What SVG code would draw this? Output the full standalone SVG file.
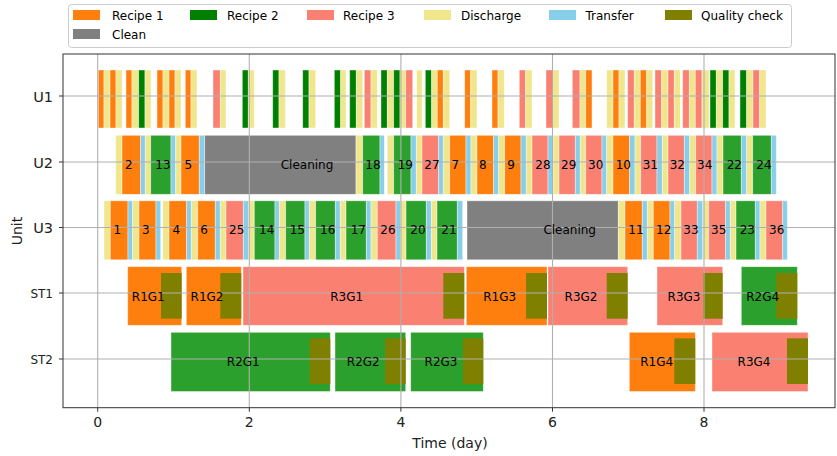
<svg xmlns="http://www.w3.org/2000/svg" width="837" height="456" viewBox="0 0 837 456">
<style>
rect.b0{stroke:#fff;stroke-opacity:.5;stroke-width:.8}
.o{fill:#ff7f0e}.g{fill:#008000}.t{fill:#2ca02c}.s{fill:#fa8072}.k{fill:#f0e68c}.b{fill:#87ceeb}.q{fill:#808000}.c{fill:#808080}
text{font-family:"DejaVu Sans","Liberation Sans",sans-serif;fill:#000}
.lbl{font-size:12px;text-anchor:middle}
.tk{font-size:14px;text-anchor:middle;fill:#222}
.yt{font-size:12px;text-anchor:end;fill:#222}
.grid line{stroke:#b0b0b0;stroke-width:1.1}
</style>
<rect width="837" height="456" fill="#fff"/>

<g id="U1-row">
<g class="b0">
<rect class="b0 o" x="98.3" y="70" width="5.7" height="58"/><rect class="b0 k" x="104" y="70" width="6" height="58"/>
<rect class="b0 o" x="110" y="70" width="6" height="58"/><rect class="b0 k" x="116" y="70" width="6" height="58"/>
<rect class="b0 o" x="126" y="70" width="6" height="58"/><rect class="b0 k" x="132" y="70" width="6.7" height="58"/><rect class="b0 g" x="138.7" y="70" width="6.3" height="58"/><rect class="b0 k" x="145" y="70" width="6" height="58"/>
<rect class="b0 o" x="157" y="70" width="6" height="58"/><rect class="b0 k" x="163" y="70" width="6" height="58"/><rect class="b0 o" x="169" y="70" width="6" height="58"/><rect class="b0 k" x="175" y="70" width="6" height="58"/>
<rect class="b0 o" x="185.3" y="70" width="5.7" height="58"/><rect class="b0 k" x="191" y="70" width="6" height="58"/>
<rect class="b0 s" x="213" y="70" width="7.3" height="58"/><rect class="b0 k" x="220.3" y="70" width="5.7" height="58"/>
<rect class="b0 g" x="242.3" y="70" width="6" height="58"/><rect class="b0 k" x="248.3" y="70" width="6" height="58"/>
<rect class="b0 g" x="272.7" y="70" width="6.3" height="58"/><rect class="b0 k" x="279" y="70" width="6.3" height="58"/>
<rect class="b0 g" x="302.7" y="70" width="6.3" height="58"/><rect class="b0 k" x="309" y="70" width="6.7" height="58"/>
<rect class="b0 g" x="334.3" y="70" width="6.4" height="58"/><rect class="b0 k" x="340.7" y="70" width="5.3" height="58"/>
<rect class="b0 g" x="349.7" y="70" width="6.6" height="58"/><rect class="b0 k" x="356.3" y="70" width="6.4" height="58"/>
<rect class="b0 s" x="364.3" y="70" width="6.7" height="58"/><rect class="b0 k" x="371" y="70" width="6.3" height="58"/>
<rect class="b0 g" x="381" y="70" width="6.3" height="58"/><rect class="b0 k" x="387.3" y="70" width="6.4" height="58"/><rect class="b0 g" x="393.7" y="70" width="6.3" height="58"/><rect class="b0 k" x="400" y="70" width="5.7" height="58"/><rect class="b0 s" x="405.7" y="70" width="7" height="58"/>
<rect class="b0 k" x="416.7" y="70" width="5.3" height="58"/>
<rect class="b0 g" x="425.3" y="70" width="6.4" height="58"/><rect class="b0 k" x="431.7" y="70" width="5.6" height="58"/><rect class="b0 o" x="437.3" y="70" width="6" height="58"/><rect class="b0 k" x="443.3" y="70" width="6.4" height="58"/>
<rect class="b0 o" x="464.7" y="70" width="6" height="58"/><rect class="b0 k" x="470.7" y="70" width="6.3" height="58"/>
<rect class="b0 o" x="492" y="70" width="6" height="58"/><rect class="b0 k" x="498" y="70" width="6.3" height="58"/>
<rect class="b0 s" x="519.3" y="70" width="6.4" height="58"/><rect class="b0 k" x="525.7" y="70" width="6.3" height="58"/>
<rect class="b0 s" x="546" y="70" width="6.7" height="58"/><rect class="b0 k" x="552.7" y="70" width="6.3" height="58"/>
<rect class="b0 s" x="572.3" y="70" width="7.7" height="58"/><rect class="b0 k" x="580" y="70" width="5.7" height="58"/><rect class="b0 o" x="585.7" y="70" width="6.3" height="58"/>
<rect class="b0 k" x="606.7" y="70" width="6.3" height="58"/><rect class="b0 o" x="613" y="70" width="6" height="58"/><rect class="b0 k" x="619" y="70" width="6" height="58"/>
<rect class="b0 s" x="627.7" y="70" width="6.6" height="58"/><rect class="b0 k" x="634.3" y="70" width="6" height="58"/><rect class="b0 o" x="640.3" y="70" width="6.4" height="58"/><rect class="b0 k" x="646.7" y="70" width="6" height="58"/>
<rect class="b0 s" x="655" y="70" width="6.7" height="58"/><rect class="b0 k" x="661.7" y="70" width="6.3" height="58"/><rect class="b0 s" x="668" y="70" width="6.3" height="58"/><rect class="b0 k" x="674.3" y="70" width="6" height="58"/>
<rect class="b0 s" x="682.7" y="70" width="6.6" height="58"/><rect class="b0 k" x="689.3" y="70" width="6" height="58"/><rect class="b0 s" x="695.3" y="70" width="6.7" height="58"/><rect class="b0 k" x="702" y="70" width="7" height="58"/>
<rect class="b0 g" x="710" y="70" width="6.3" height="58"/><rect class="b0 k" x="716.3" y="70" width="6.4" height="58"/><rect class="b0 g" x="722.7" y="70" width="6.3" height="58"/><rect class="b0 k" x="729" y="70" width="6" height="58"/>
<rect class="b0 g" x="740" y="70" width="6.7" height="58"/><rect class="b0 k" x="746.7" y="70" width="6.3" height="58"/><rect class="b0 s" x="753" y="70" width="6.7" height="58"/><rect class="b0 k" x="759.7" y="70" width="6.3" height="58"/>
</g>
</g>

<g id="U2-row">
<rect class="b0 k" x="115.7" y="135.3" width="6.3" height="59"/><rect class="b0 o" x="122" y="135.3" width="18.7" height="59"/><rect class="b0 b" x="140.7" y="135.3" width="4.6" height="59"/>
<rect class="b0 k" x="145.3" y="135.3" width="5.4" height="59"/><rect class="b0 t" x="150.7" y="135.3" width="20.3" height="59"/><rect class="b0 b" x="171" y="135.3" width="4.7" height="59"/>
<rect class="b0 k" x="175.7" y="135.3" width="5.3" height="59"/><rect class="b0 o" x="181" y="135.3" width="18.3" height="59"/><rect class="b0 b" x="199.3" y="135.3" width="5.4" height="59"/>
<rect class="b0 c" x="204.7" y="135.3" width="151.3" height="59"/>
<rect class="b0 k" x="356" y="135.3" width="6.7" height="59"/><rect class="b0 t" x="362.7" y="135.3" width="17.3" height="59"/><rect class="b0 b" x="380" y="135.3" width="4.3" height="59"/>
<rect class="b0 k" x="387.3" y="135.3" width="6.4" height="59"/><rect class="b0 t" x="393.7" y="135.3" width="17.3" height="59"/><rect class="b0 b" x="411" y="135.3" width="5.3" height="59"/>
<rect class="b0 k" x="416.3" y="135.3" width="5.7" height="59"/><rect class="b0 s" x="422" y="135.3" width="16.7" height="59"/><rect class="b0 b" x="438.7" y="135.3" width="4.6" height="59"/>
<rect class="b0 k" x="443.3" y="135.3" width="6.4" height="59"/><rect class="b0 o" x="449.7" y="135.3" width="16.3" height="59"/><rect class="b0 b" x="466" y="135.3" width="5" height="59"/>
<rect class="b0 k" x="471" y="135.3" width="6" height="59"/><rect class="b0 o" x="477" y="135.3" width="16.7" height="59"/><rect class="b0 b" x="493.7" y="135.3" width="5" height="59"/>
<rect class="b0 k" x="498.7" y="135.3" width="6" height="59"/><rect class="b0 o" x="504.7" y="135.3" width="16.3" height="59"/><rect class="b0 b" x="521" y="135.3" width="5.3" height="59"/>
<rect class="b0 k" x="526.3" y="135.3" width="5.7" height="59"/><rect class="b0 s" x="532" y="135.3" width="16" height="59"/><rect class="b0 b" x="548" y="135.3" width="5.3" height="59"/>
<rect class="b0 k" x="553.3" y="135.3" width="5.7" height="59"/><rect class="b0 s" x="559" y="135.3" width="16.3" height="59"/><rect class="b0 b" x="575.3" y="135.3" width="5" height="59"/>
<rect class="b0 k" x="580.3" y="135.3" width="5.4" height="59"/><rect class="b0 s" x="585.7" y="135.3" width="16.3" height="59"/><rect class="b0 b" x="602" y="135.3" width="4.7" height="59"/>
<rect class="b0 k" x="606.7" y="135.3" width="6.3" height="59"/><rect class="b0 o" x="613" y="135.3" width="16.7" height="59"/><rect class="b0 b" x="629.7" y="135.3" width="5.3" height="59"/>
<rect class="b0 k" x="635" y="135.3" width="5.7" height="59"/><rect class="b0 s" x="640.7" y="135.3" width="16.3" height="59"/><rect class="b0 b" x="657" y="135.3" width="5.3" height="59"/>
<rect class="b0 k" x="662.3" y="135.3" width="5.7" height="59"/><rect class="b0 s" x="668" y="135.3" width="16.3" height="59"/><rect class="b0 b" x="684.3" y="135.3" width="5.4" height="59"/>
<rect class="b0 k" x="689.7" y="135.3" width="6" height="59"/><rect class="b0 s" x="695.7" y="135.3" width="16.3" height="59"/><rect class="b0 b" x="712" y="135.3" width="5" height="59"/>
<rect class="b0 k" x="717" y="135.3" width="6" height="59"/><rect class="b0 t" x="723" y="135.3" width="18.3" height="59"/><rect class="b0 b" x="741.3" y="135.3" width="5.4" height="59"/>
<rect class="b0 k" x="746.7" y="135.3" width="6" height="59"/><rect class="b0 t" x="752.7" y="135.3" width="18.6" height="59"/><rect class="b0 b" x="771.3" y="135.3" width="5" height="59"/>
</g>

<g id="U3-row">
<rect class="b0 k" x="104" y="200.8" width="6.3" height="59"/><rect class="b0 o" x="110.3" y="200.8" width="17.7" height="59"/><rect class="b0 b" x="128" y="200.8" width="4.7" height="59"/>
<rect class="b0 k" x="132.7" y="200.8" width="6.3" height="59"/><rect class="b0 o" x="139" y="200.8" width="17" height="59"/><rect class="b0 b" x="156" y="200.8" width="4.7" height="59"/>
<rect class="b0 k" x="162.7" y="200.8" width="6.3" height="59"/><rect class="b0 o" x="169" y="200.8" width="17.7" height="59"/><rect class="b0 b" x="186.7" y="200.8" width="4.6" height="59"/>
<rect class="b0 k" x="191.3" y="200.8" width="6.4" height="59"/><rect class="b0 o" x="197.7" y="200.8" width="17.6" height="59"/><rect class="b0 b" x="215.3" y="200.8" width="5" height="59"/>
<rect class="b0 k" x="220.3" y="200.8" width="5.7" height="59"/><rect class="b0 s" x="226" y="200.8" width="17.3" height="59"/><rect class="b0 b" x="243.3" y="200.8" width="5.4" height="59"/>
<rect class="b0 k" x="248.7" y="200.8" width="5.6" height="59"/><rect class="b0 t" x="254.3" y="200.8" width="20.7" height="59"/><rect class="b0 b" x="275" y="200.8" width="4.3" height="59"/>
<rect class="b0 k" x="279.3" y="200.8" width="6.4" height="59"/><rect class="b0 t" x="285.7" y="200.8" width="19.3" height="59"/><rect class="b0 b" x="305" y="200.8" width="4.3" height="59"/>
<rect class="b0 k" x="309.3" y="200.8" width="6.4" height="59"/><rect class="b0 t" x="315.7" y="200.8" width="19.6" height="59"/><rect class="b0 b" x="335.3" y="200.8" width="5" height="59"/>
<rect class="b0 k" x="340.3" y="200.8" width="5.7" height="59"/><rect class="b0 t" x="346" y="200.8" width="20.3" height="59"/><rect class="b0 b" x="366.3" y="200.8" width="4.7" height="59"/>
<rect class="b0 k" x="371" y="200.8" width="6.3" height="59"/><rect class="b0 s" x="377.3" y="200.8" width="18.7" height="59"/><rect class="b0 b" x="396" y="200.8" width="4.7" height="59"/>
<rect class="b0 k" x="400.7" y="200.8" width="5.3" height="59"/><rect class="b0 t" x="406" y="200.8" width="20.3" height="59"/><rect class="b0 b" x="426.3" y="200.8" width="5" height="59"/>
<rect class="b0 k" x="431.3" y="200.8" width="5.7" height="59"/><rect class="b0 t" x="437" y="200.8" width="20.3" height="59"/><rect class="b0 b" x="457.3" y="200.8" width="5.4" height="59"/>
<rect class="b0 c" x="467" y="200.8" width="151.3" height="59"/>
<rect class="b0 k" x="618.3" y="200.8" width="6.7" height="59"/><rect class="b0 o" x="625" y="200.8" width="17.3" height="59"/><rect class="b0 b" x="642.3" y="200.8" width="5" height="59"/>
<rect class="b0 k" x="647.3" y="200.8" width="6" height="59"/><rect class="b0 o" x="653.3" y="200.8" width="16.7" height="59"/><rect class="b0 b" x="670" y="200.8" width="4.7" height="59"/>
<rect class="b0 k" x="674.7" y="200.8" width="6.3" height="59"/><rect class="b0 s" x="681" y="200.8" width="16.3" height="59"/><rect class="b0 b" x="697.3" y="200.8" width="5.4" height="59"/>
<rect class="b0 k" x="703.3" y="200.8" width="5.4" height="59"/><rect class="b0 s" x="708.7" y="200.8" width="17" height="59"/><rect class="b0 b" x="725.7" y="200.8" width="4.6" height="59"/>
<rect class="b0 k" x="730.3" y="200.8" width="5.7" height="59"/><rect class="b0 t" x="736" y="200.8" width="19.3" height="59"/><rect class="b0 b" x="755.3" y="200.8" width="4.7" height="59"/>
<rect class="b0 k" x="760" y="200.8" width="6" height="59"/><rect class="b0 s" x="766" y="200.8" width="16.7" height="59"/><rect class="b0 b" x="782.7" y="200.8" width="4.6" height="59"/>
</g>

<g id="ST1-row">
<rect class="b0 o" x="127.7" y="266.7" width="54" height="58.6"/><rect class="q" x="161" y="273" width="20.7" height="45.7"/>
<rect class="b0 o" x="186.3" y="266.7" width="55" height="58.6"/><rect class="q" x="220.3" y="273" width="21" height="45.7"/>
<rect class="b0 s" x="243" y="266.7" width="221.3" height="58.6"/><rect class="q" x="443.3" y="273" width="21" height="45.7"/>
<rect class="b0 o" x="466.3" y="266.7" width="80.7" height="58.6"/><rect class="q" x="526" y="273" width="21" height="45.7"/>
<rect class="b0 s" x="548" y="266.7" width="79.7" height="58.6"/><rect class="q" x="606.7" y="273" width="21" height="45.7"/>
<rect class="b0 s" x="657" y="266.7" width="65.7" height="58.6"/><rect class="q" x="703" y="273" width="19.7" height="45.7"/>
<rect class="b0 t" x="741.3" y="266.7" width="56" height="58.6"/><rect class="q" x="776.3" y="273" width="21" height="45.7"/>
</g>

<g id="ST2-row">
<rect class="b0 t" x="171" y="332.3" width="159.3" height="59.2"/><rect class="q" x="309.7" y="338.3" width="20.6" height="45.7"/>
<rect class="b0 t" x="335" y="332.3" width="70.7" height="59.2"/><rect class="q" x="385" y="338.3" width="20.7" height="45.7"/>
<rect class="b0 t" x="410.7" y="332.3" width="72.6" height="59.2"/><rect class="q" x="463" y="338.3" width="20.3" height="45.7"/>
<rect class="b0 o" x="629.3" y="332.3" width="66" height="59.2"/><rect class="q" x="674.3" y="338.3" width="21" height="45.7"/>
<rect class="b0 s" x="712" y="332.3" width="96" height="59.2"/><rect class="q" x="787" y="338.3" width="21" height="45.7"/>
</g>

<g class="grid" id="grid">
<line x1="97.7" y1="54" x2="97.7" y2="407.7"/><line x1="249.3" y1="54" x2="249.3" y2="407.7"/><line x1="400.9" y1="54" x2="400.9" y2="407.7"/><line x1="552.5" y1="54" x2="552.5" y2="407.7"/><line x1="704" y1="54" x2="704" y2="407.7"/>
<line x1="63" y1="96" x2="835" y2="96"/><line x1="63" y1="162" x2="835" y2="162"/><line x1="63" y1="227.5" x2="835" y2="227.5"/><line x1="63" y1="293" x2="835" y2="293"/><line x1="63" y1="359" x2="835" y2="359"/>
</g>

<g id="bar-labels" class="lbl">
<text x="128.7" y="168.5">2</text><text x="163" y="168.5">13</text><text x="188.3" y="168.5">5</text><text x="307" y="168.5">Cleaning</text>
<text x="373" y="168.5">18</text><text x="405.3" y="168.5">19</text><text x="432" y="168.5">27</text><text x="455.3" y="168.5">7</text><text x="482.7" y="168.5">8</text><text x="511" y="168.5">9</text><text x="543" y="168.5">28</text>
<text x="568.7" y="168.5">29</text><text x="595.7" y="168.5">30</text><text x="623.3" y="168.5">10</text><text x="650.3" y="168.5">31</text><text x="677.3" y="168.5">32</text><text x="704.7" y="168.5">34</text><text x="734.3" y="168.5">22</text><text x="764" y="168.5">24</text>
<text x="117.3" y="233.8">1</text><text x="145.7" y="233.8">3</text><text x="176.3" y="233.8">4</text><text x="204" y="233.8">6</text><text x="236.7" y="233.8">25</text><text x="266.7" y="233.8">14</text><text x="297.3" y="233.8">15</text>
<text x="327.7" y="233.8">16</text><text x="358.3" y="233.8">17</text><text x="388" y="233.8">26</text><text x="418" y="233.8">20</text><text x="449" y="233.8">21</text><text x="569.7" y="233.8">Cleaning</text>
<text x="636" y="233.8">11</text><text x="663.7" y="233.8">12</text><text x="691" y="233.8">33</text><text x="718.7" y="233.8">35</text><text x="747.3" y="233.8">23</text><text x="776.7" y="233.8">36</text>
<text x="148.3" y="300.5">R1G1</text><text x="207" y="300.5">R1G2</text><text x="346.7" y="300.5">R3G1</text><text x="499.7" y="300.5">R1G3</text><text x="581" y="300.5">R3G2</text><text x="684" y="300.5">R3G3</text><text x="762.7" y="300.5">R2G4</text>
<text x="243.3" y="365.7">R2G1</text><text x="363.3" y="365.7">R2G2</text><text x="441" y="365.7">R2G3</text><text x="656.7" y="365.7">R1G4</text><text x="754" y="365.7">R3G4</text>
</g>

<g id="axes" stroke="#333" stroke-width="1" fill="none">
<rect x="63" y="54" width="772" height="353.7"/>
<path d="M97.7 407.7v4M249.3 407.7v4M400.9 407.7v4M552.5 407.7v4M704 407.7v4M63 96h-4M63 162h-4M63 227.5h-4M63 293h-4M63 359h-4"/>
</g>
<g id="tick-labels">
<text class="tk" x="97.7" y="427">0</text><text class="tk" x="249.3" y="427">2</text><text class="tk" x="400.9" y="427">4</text><text class="tk" x="552.5" y="427">6</text><text class="tk" x="704" y="427">8</text>
<text class="yt" x="53" y="101.5" style="font-size:14.5px">U1</text><text class="yt" x="53" y="167.5" style="font-size:14.5px">U2</text><text class="yt" x="53" y="233" style="font-size:14.5px">U3</text>
<text class="yt" x="53" y="297.5">ST1</text><text class="yt" x="53" y="363.5">ST2</text>
<text x="450" y="448" style="font-size:14px;text-anchor:middle;fill:#222">Time (day)</text>
<text transform="translate(22 231) rotate(-90)" style="font-size:14px;text-anchor:middle;fill:#222">Unit</text>
</g>

<g id="legend">
<rect x="68.5" y="4.5" width="723" height="43" rx="3" fill="#fff" fill-opacity=".8" stroke="#ccc"/>
<rect class="o" x="73" y="10" width="27" height="10"/><text x="112" y="19.5" style="font-size:12px">Recipe 1</text>
<rect class="g" x="190" y="10" width="27" height="10"/><text x="227" y="19.5" style="font-size:12px">Recipe 2</text>
<rect class="s" x="307" y="10" width="27" height="10"/><text x="343" y="19.5" style="font-size:12px">Recipe 3</text>
<rect class="k" x="424" y="10" width="27" height="10"/><text x="461" y="19.5" style="font-size:12px">Discharge</text>
<rect class="b" x="549" y="10" width="27" height="10"/><text x="585.5" y="19.5" style="font-size:12px">Transfer</text>
<rect class="q" x="665" y="10" width="27" height="10"/><text x="701" y="19.5" style="font-size:12px">Quality check</text>
<rect class="c" x="73" y="29" width="27" height="10"/><text x="112" y="38.5" style="font-size:12px">Clean</text>
</g>
</svg>
